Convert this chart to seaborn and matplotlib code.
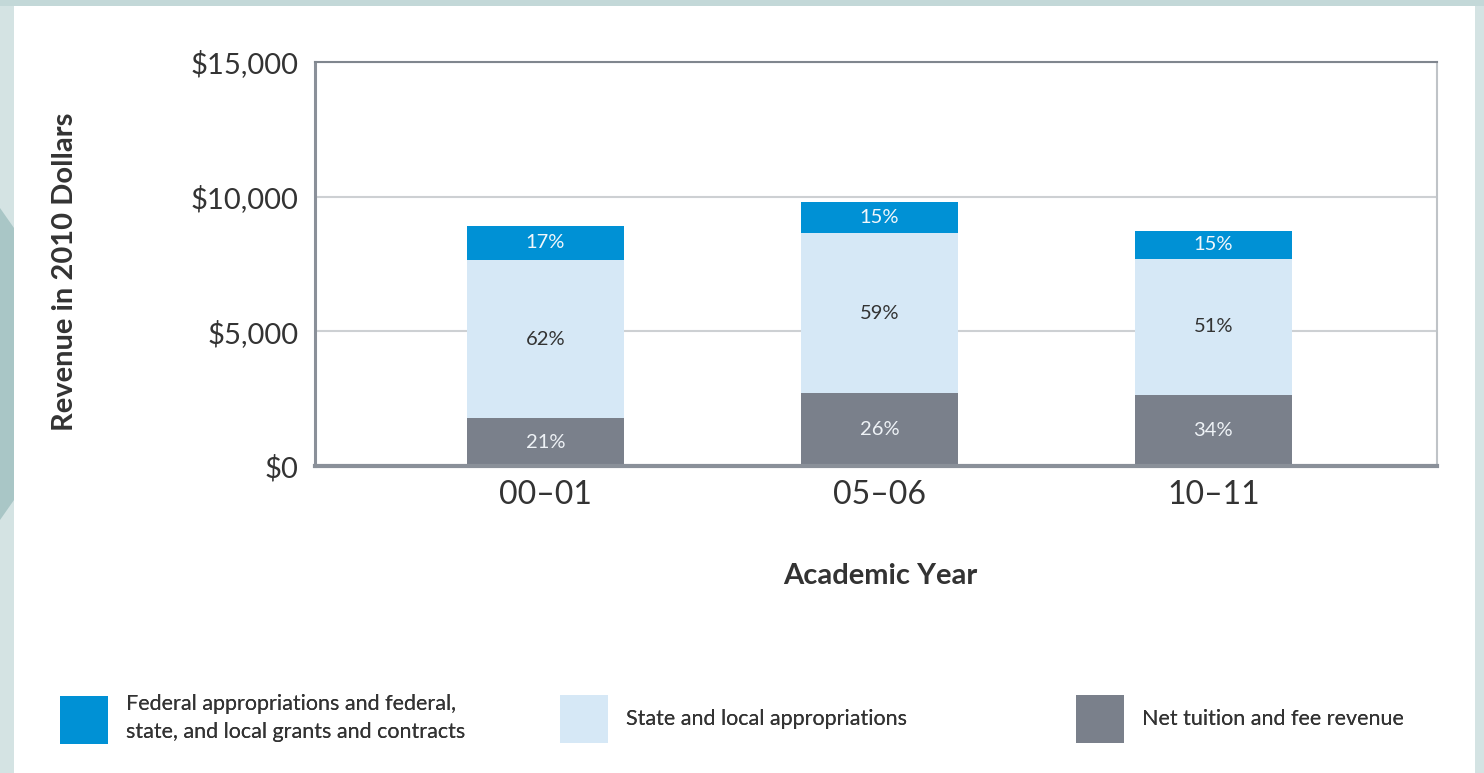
import matplotlib
matplotlib.use("Agg")
import matplotlib.pyplot as plt
from matplotlib.patches import Patch, Rectangle, Polygon
import seaborn as sns
import pandas as pd
import numpy as np

# ---- data ----
years = ["00\u201301", "05\u201306", "10\u201311"]
tuition = [1780, 2710, 2640]      # Net tuition and fee revenue
state = [5870, 5940, 5050]        # State and local appropriations
federal = [1260, 1150, 1040]      # Federal appropriations and grants
tuition_pct = ["21%", "26%", "34%"]
state_pct = ["62%", "59%", "51%"]
federal_pct = ["17%", "15%", "15%"]
series_names = ["Federal appropriations and federal,\nstate, and local grants and contracts",
                "State and local appropriations",
                "Net tuition and fee revenue"]
y_ticks = [0, 5000, 10000, 15000]

c_fed = "#0091d5"
c_state = "#d6e8f6"
c_tui = "#7a808b"
txt = "#333333"

sns.set_theme(style="white")
plt.rcParams["font.family"] = ["Lato", "DejaVu Sans"]

df = pd.DataFrame({"year": years, "tuition": tuition, "state": state, "federal": federal})
df["lvl1"] = df["tuition"]
df["lvl2"] = df["tuition"] + df["state"]
df["lvl3"] = df["lvl2"] + df["federal"]

fig = plt.figure(figsize=(14.84, 7.73), dpi=100)
fig.patch.set_facecolor("#d4e3e3")
# decorative frame
fig.patches.append(Polygon([(0, 1 - 208/773), (14/1484, 1 - 228/773), (14/1484, 1 - 500/773), (0, 1 - 520/773)],
                           closed=True, transform=fig.transFigure, facecolor="#a9c6c6", edgecolor="none", zorder=0))
fig.patches.append(Rectangle((0, 1 - 6/773), 1, 6/773, transform=fig.transFigure,
                             facecolor="#c3d8d8", edgecolor="none", zorder=0))
fig.patches.append(Rectangle((14/1484, 0), (1475 - 14)/1484, (773 - 6)/773, transform=fig.transFigure,
                             facecolor="white", edgecolor="none", zorder=0.5))

ax = fig.add_axes([315/1484, 1 - 466/773, (1437 - 315)/1484, (466 - 62)/773])
ax.set_zorder(2)
ax.set_facecolor("none")

order = years
sns.barplot(data=df, x="year", y="lvl3", order=order, color=c_fed, saturation=1, width=0.47,
            errorbar=None, ax=ax, linewidth=0)
sns.barplot(data=df, x="year", y="lvl2", order=order, color=c_state, saturation=1, width=0.47,
            errorbar=None, ax=ax, linewidth=0)
sns.barplot(data=df, x="year", y="lvl1", order=order, color=c_tui, saturation=1, width=0.47,
            errorbar=None, ax=ax, linewidth=0)

# percent labels
for i in range(len(years)):
    ax.text(i, df["lvl1"][i] / 2, tuition_pct[i], ha="center", va="center", fontsize=14.5, color="#eef2f6")
    ax.text(i, (df["lvl1"][i] + df["lvl2"][i]) / 2, state_pct[i], ha="center", va="center", fontsize=14.5, color=txt)
    ax.text(i, (df["lvl2"][i] + df["lvl3"][i]) / 2, federal_pct[i], ha="center", va="center", fontsize=14.5, color="#f2f7fb")

ax.set_xlim(-0.69, 2.67)
ax.set_ylim(0, 15000)
ax.set_yticks(y_ticks)
ax.set_yticklabels(["${:,}".format(v) for v in y_ticks])
ax.set_axisbelow(True)
ax.yaxis.grid(True, color="#cdd0d3", linewidth=1.5)
ax.xaxis.grid(False)

for s in ["left", "bottom"]:
    ax.spines[s].set_color("#8a9099")
ax.spines["left"].set_linewidth(2.2)
ax.spines["bottom"].set_linewidth(3)
ax.spines["top"].set_color("#80868e")
ax.spines["top"].set_linewidth(1.5)
ax.spines["right"].set_color("#bfc3c7")
ax.spines["right"].set_linewidth(1.5)

ax.tick_params(axis="y", length=0, pad=12, labelsize=21, labelcolor=txt)
ax.tick_params(axis="x", which="major", length=0, pad=10, labelsize=23, labelcolor=txt)
ax.set_xticks([0.5, 1.5], minor=True)
ax.tick_params(axis="x", which="minor", direction="inout", length=26, width=2, color="#8a9099")

ax.set_xlabel("Academic Year", fontsize=21, fontweight="bold", color=txt)
ax.xaxis.set_label_coords((880 - 315)/1122, (466 - 576)/404)
ax.xaxis.label.set_va("center")
ax.set_ylabel("Revenue in 2010 Dollars", fontsize=21, fontweight="bold", color=txt)
ax.yaxis.set_label_coords((65 - 315)/1122, (466 - 272)/404)
ax.yaxis.label.set_va("center")

# legend (three separate entries)
fs = 15.5
fpx = fs * 100 / 72
hh = (48 / fpx - 0.245) / 0.65
for col, name, x0 in [(c_fed, series_names[0], 60), (c_state, series_names[1], 560), (c_tui, series_names[2], 1076)]:
    leg = fig.legend(handles=[Patch(facecolor=col, edgecolor="none")], labels=[name],
                     loc="center left", bbox_to_anchor=(x0/1484, 1 - 719/773),
                     frameon=False, fontsize=fs, handlelength=48 / fpx, handleheight=hh,
                     handletextpad=18/fpx, borderpad=0, borderaxespad=0, labelcolor=txt)
    for t in leg.get_texts():
        t.set_linespacing(1.45)
    fig.add_artist(leg)

fig.savefig("out.png", dpi=100, facecolor=fig.get_facecolor())
